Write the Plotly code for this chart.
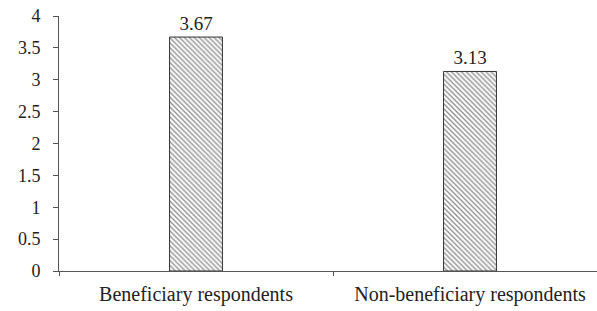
import plotly.graph_objects as go

categories = ["Beneficiary respondents", "Non-beneficiary respondents"]
values = [3.67, 3.13]
value_labels = ["3.67", "3.13"]
y_ticks = [0, 0.5, 1, 1.5, 2, 2.5, 3, 3.5, 4]
y_tick_labels = ["0", "0.5", "1", "1.5", "2", "2.5", "3", "3.5", "4"]

font_family = "Liberation Serif, Times New Roman, serif"

fig = go.Figure(go.Bar(
    x=categories, y=values, width=0.193,
    text=value_labels, textposition="outside", cliponaxis=False,
    textfont=dict(family=font_family, size=19, color="#222"),
    marker=dict(color="white", line=dict(color="#333", width=1),
                pattern=dict(shape="\\", fgcolor="#222", bgcolor="white", size=3.5, solidity=0.4)),
))

fig.update_layout(
    width=597, height=311, margin=dict(l=59, r=0, t=16, b=40, autoexpand=False),
    paper_bgcolor="white", plot_bgcolor="white", showlegend=False,
    font=dict(family=font_family, size=18, color="#222"),
)
fig.update_xaxes(range=[-0.5, 1.4635], showline=True, linecolor="#555", linewidth=1,
                 ticks="outside", tickson="boundaries", ticklen=4, tickcolor="#555",
                 showgrid=False, automargin=False, ticklabeloverflow="allow",
                 ticklabelstandoff=5,
                 tickfont=dict(family=font_family, size=20, color="#222"))
fig.update_yaxes(range=[0, 4], tickvals=y_ticks, ticktext=y_tick_labels,
                 showline=True, linecolor="#555", linewidth=1, ticks="outside", ticklen=5,
                 tickcolor="#555", showgrid=False, zeroline=False, automargin=False,
                 ticklabeloverflow="allow", ticklabelstandoff=9,
                 tickfont=dict(family=font_family, size=18, color="#222"))

fig.write_html("out.html", config={"displayModeBar": False},
               post_script="document.body.style.margin='0';")
